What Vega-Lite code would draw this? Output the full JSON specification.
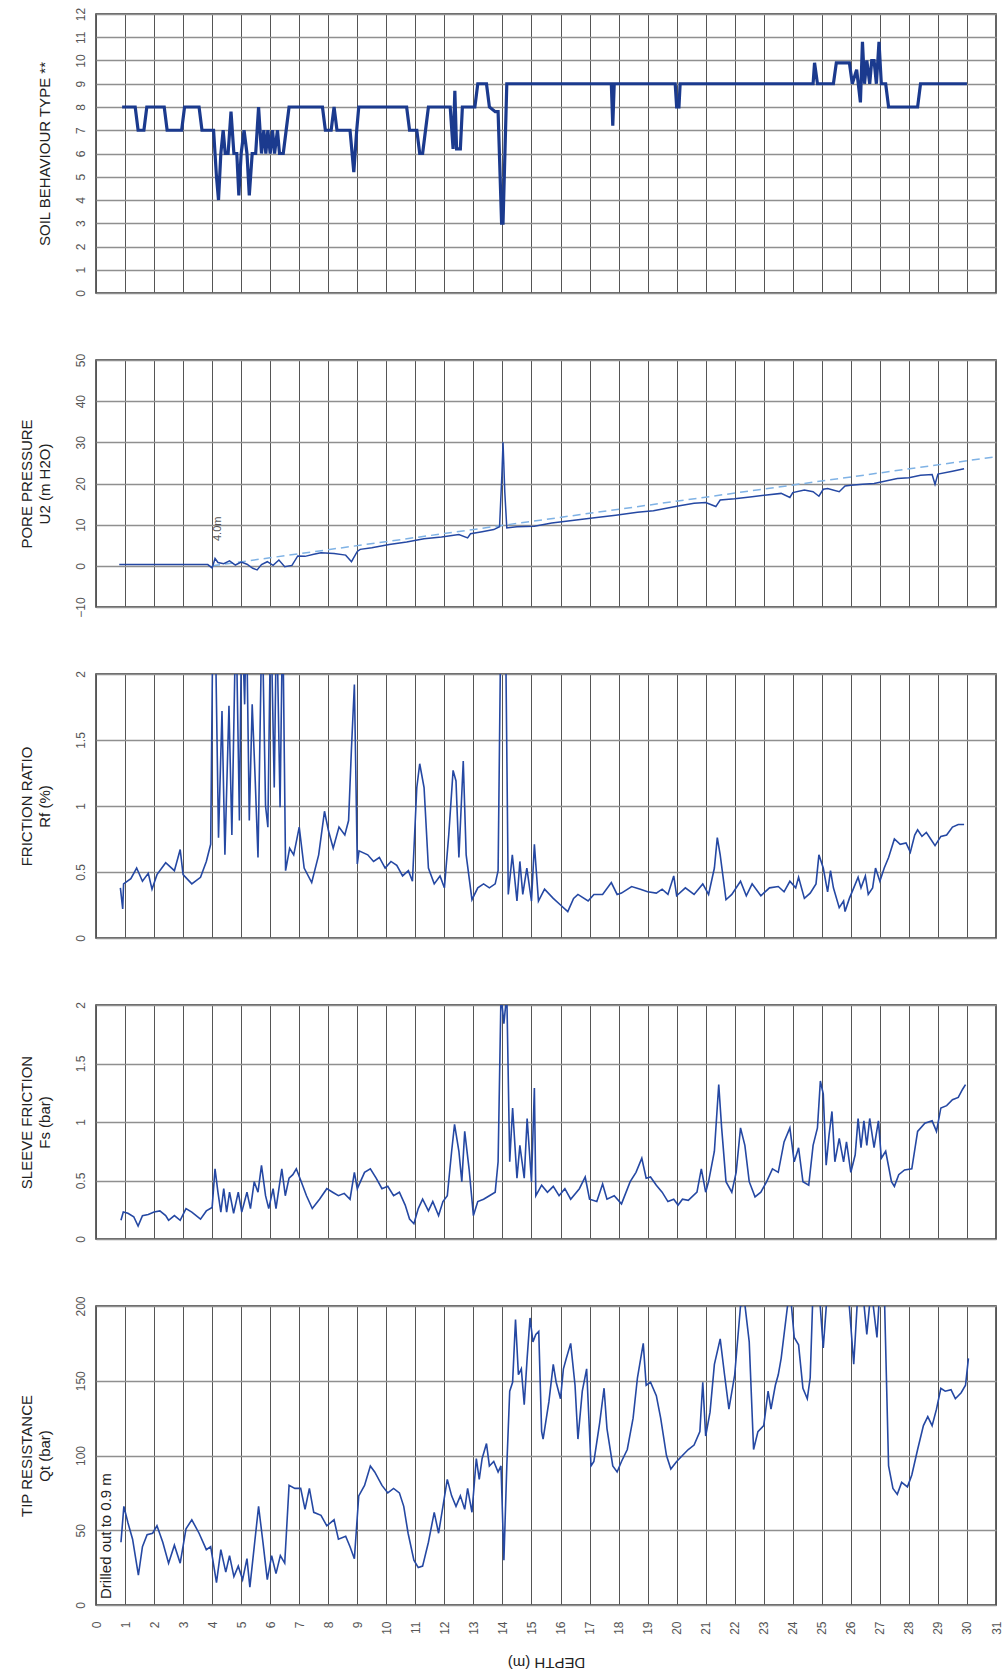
{
  "$schema": "https://vega.github.io/schema/vega-lite/v6.json",
  "background": "white",
  "padding": {"left": 18, "top": 6, "right": 10, "bottom": 0},
  "spacing": 67,
  "bounds": "flush",
  "datasets": {
    "sbt": [
      {"d":0.9,"v":8},{"d":1.35,"v":8},{"d":1.45,"v":7},{"d":1.65,"v":7},{"d":1.75,"v":8},{"d":2.35,"v":8},{"d":2.45,"v":7},{"d":2.95,"v":7},{"d":3.05,"v":8},{"d":3.55,"v":8},{"d":3.65,"v":7},{"d":4.05,"v":7},{"d":4.15,"v":5},{"d":4.22,"v":4},{"d":4.3,"v":6},{"d":4.38,"v":7},{"d":4.45,"v":6},{"d":4.55,"v":6},{"d":4.65,"v":7.8},{"d":4.75,"v":6},{"d":4.85,"v":6},{"d":4.92,"v":4.2},{"d":5.0,"v":6},{"d":5.1,"v":7},{"d":5.2,"v":6},{"d":5.28,"v":4.2},{"d":5.38,"v":6},{"d":5.5,"v":6},{"d":5.6,"v":8},{"d":5.7,"v":6},{"d":5.78,"v":7},{"d":5.85,"v":6},{"d":5.92,"v":7},{"d":6.0,"v":6},{"d":6.08,"v":7},{"d":6.15,"v":6},{"d":6.25,"v":7},{"d":6.32,"v":6},{"d":6.45,"v":6},{"d":6.55,"v":7},{"d":6.65,"v":8},{"d":7.8,"v":8},{"d":7.9,"v":7},{"d":8.1,"v":7},{"d":8.2,"v":8},{"d":8.3,"v":7},{"d":8.75,"v":7},{"d":8.88,"v":5.2},{"d":8.98,"v":7},{"d":9.05,"v":8},{"d":10.7,"v":8},{"d":10.8,"v":7},{"d":11.05,"v":7},{"d":11.15,"v":6},{"d":11.25,"v":6},{"d":11.35,"v":7},{"d":11.45,"v":8},{"d":12.2,"v":8},{"d":12.3,"v":6.2},{"d":12.36,"v":8.7},{"d":12.42,"v":6.2},{"d":12.55,"v":6.2},{"d":12.62,"v":8},{"d":13.05,"v":8},{"d":13.15,"v":9},{"d":13.45,"v":9},{"d":13.55,"v":8},{"d":13.75,"v":7.8},{"d":13.85,"v":7.8},{"d":13.97,"v":3},{"d":14.02,"v":3},{"d":14.15,"v":9},{"d":17.75,"v":9},{"d":17.8,"v":7.2},{"d":17.85,"v":9},{"d":19.95,"v":9},{"d":20.0,"v":8},{"d":20.08,"v":8},{"d":20.12,"v":9},{"d":24.7,"v":9},{"d":24.75,"v":9.9},{"d":24.85,"v":9},{"d":25.4,"v":9},{"d":25.5,"v":9.9},{"d":25.95,"v":9.9},{"d":26.05,"v":9},{"d":26.2,"v":9.6},{"d":26.33,"v":8.2},{"d":26.4,"v":10.8},{"d":26.47,"v":9},{"d":26.55,"v":10},{"d":26.65,"v":9},{"d":26.72,"v":10},{"d":26.8,"v":10},{"d":26.88,"v":9},{"d":26.97,"v":10.8},{"d":27.05,"v":9},{"d":27.2,"v":9},{"d":27.3,"v":8},{"d":28.3,"v":8},{"d":28.4,"v":9},{"d":30.0,"v":9}
    ],
    "pp": [
      {"d":0.8,"v":0.3},{"d":1.5,"v":0.3},{"d":2.5,"v":0.3},{"d":3.5,"v":0.3},{"d":3.85,"v":0.3},{"d":4.0,"v":-0.5},{"d":4.1,"v":1.8},{"d":4.2,"v":0.8},{"d":4.4,"v":0.5},{"d":4.6,"v":1.2},{"d":4.8,"v":0.2},{"d":5.0,"v":0.9},{"d":5.2,"v":0.4},{"d":5.4,"v":-0.6},{"d":5.55,"v":-1},{"d":5.7,"v":0.3},{"d":5.9,"v":1.0},{"d":6.1,"v":0.1},{"d":6.3,"v":1.4},{"d":6.5,"v":-0.2},{"d":6.75,"v":0.1},{"d":6.95,"v":2.4},{"d":7.2,"v":2.3},{"d":7.5,"v":2.8},{"d":7.75,"v":3.2},{"d":8.2,"v":3.0},{"d":8.6,"v":2.6},{"d":8.8,"v":1.0},{"d":9.0,"v":3.5},{"d":9.1,"v":4.0},{"d":9.5,"v":4.4},{"d":10.1,"v":5.2},{"d":10.7,"v":5.8},{"d":11.3,"v":6.6},{"d":11.9,"v":7.0},{"d":12.5,"v":7.6},{"d":12.8,"v":6.8},{"d":12.9,"v":7.8},{"d":13.3,"v":8.3},{"d":13.7,"v":8.8},{"d":13.9,"v":9.5},{"d":13.98,"v":22},{"d":14.02,"v":30},{"d":14.08,"v":18},{"d":14.15,"v":9.2},{"d":14.5,"v":9.5},{"d":15.1,"v":9.6},{"d":15.7,"v":10.4},{"d":16.4,"v":11.0},{"d":17.1,"v":11.6},{"d":17.9,"v":12.3},{"d":18.65,"v":13},{"d":19.2,"v":13.4},{"d":19.65,"v":14},{"d":20.1,"v":14.6},{"d":20.6,"v":15.2},{"d":21.0,"v":15.4},{"d":21.35,"v":14.4},{"d":21.5,"v":16.0},{"d":22.0,"v":16.3},{"d":22.6,"v":16.8},{"d":23.1,"v":17.2},{"d":23.6,"v":17.6},{"d":23.9,"v":16.6},{"d":24.0,"v":17.8},{"d":24.4,"v":18.4},{"d":24.7,"v":18.0},{"d":24.9,"v":16.9},{"d":25.05,"v":18.6},{"d":25.2,"v":18.8},{"d":25.6,"v":18.0},{"d":25.8,"v":19.4},{"d":26.0,"v":19.6},{"d":26.4,"v":19.8},{"d":26.8,"v":20.0},{"d":27.2,"v":20.6},{"d":27.6,"v":21.2},{"d":28.0,"v":21.4},{"d":28.4,"v":22.0},{"d":28.8,"v":22.2},{"d":28.9,"v":19.8},{"d":29.0,"v":22.3},{"d":29.5,"v":23.0},{"d":29.9,"v":23.6}
    ],
    "hyd": [
      {"d":4.0,"v":0},{"d":31.0,"v":26.5}
    ],
    "rf": [
      {"d":0.84,"v":0.38},{"d":0.92,"v":0.22},{"d":0.95,"v":0.41},{"d":1.2,"v":0.45},{"d":1.4,"v":0.53},{"d":1.6,"v":0.43},{"d":1.8,"v":0.49},{"d":1.93,"v":0.37},{"d":2.1,"v":0.48},{"d":2.4,"v":0.57},{"d":2.7,"v":0.51},{"d":2.9,"v":0.67},{"d":3.0,"v":0.48},{"d":3.3,"v":0.41},{"d":3.6,"v":0.46},{"d":3.8,"v":0.58},{"d":3.95,"v":0.71},{"d":4.03,"v":2.5},{"d":4.1,"v":2.5},{"d":4.22,"v":0.76},{"d":4.34,"v":1.72},{"d":4.44,"v":0.63},{"d":4.58,"v":1.76},{"d":4.68,"v":0.78},{"d":4.82,"v":2.5},{"d":4.94,"v":0.89},{"d":5.02,"v":2.5},{"d":5.12,"v":1.77},{"d":5.18,"v":2.5},{"d":5.28,"v":0.89},{"d":5.38,"v":1.77},{"d":5.48,"v":1.22},{"d":5.58,"v":0.61},{"d":5.72,"v":2.5},{"d":5.84,"v":1.0},{"d":5.92,"v":0.84},{"d":6.02,"v":2.5},{"d":6.14,"v":1.14},{"d":6.22,"v":2.5},{"d":6.34,"v":0.99},{"d":6.43,"v":2.5},{"d":6.53,"v":0.51},{"d":6.67,"v":0.68},{"d":6.81,"v":0.63},{"d":7.0,"v":0.84},{"d":7.17,"v":0.53},{"d":7.43,"v":0.42},{"d":7.67,"v":0.63},{"d":7.87,"v":0.96},{"d":8.01,"v":0.81},{"d":8.17,"v":0.68},{"d":8.37,"v":0.84},{"d":8.57,"v":0.78},{"d":8.7,"v":0.89},{"d":8.8,"v":1.44},{"d":8.9,"v":1.92},{"d":9.0,"v":0.56},{"d":9.06,"v":0.66},{"d":9.36,"v":0.63},{"d":9.56,"v":0.58},{"d":9.76,"v":0.61},{"d":9.96,"v":0.53},{"d":10.16,"v":0.58},{"d":10.36,"v":0.55},{"d":10.56,"v":0.47},{"d":10.76,"v":0.51},{"d":10.9,"v":0.43},{"d":11.05,"v":1.14},{"d":11.15,"v":1.32},{"d":11.3,"v":1.14},{"d":11.45,"v":0.53},{"d":11.65,"v":0.41},{"d":11.85,"v":0.47},{"d":12.0,"v":0.38},{"d":12.15,"v":0.78},{"d":12.3,"v":1.27},{"d":12.4,"v":1.19},{"d":12.5,"v":0.61},{"d":12.65,"v":1.34},{"d":12.75,"v":0.63},{"d":12.95,"v":0.29},{"d":13.15,"v":0.38},{"d":13.35,"v":0.41},{"d":13.55,"v":0.38},{"d":13.75,"v":0.41},{"d":13.85,"v":0.51},{"d":13.95,"v":2.5},{"d":14.1,"v":2.5},{"d":14.2,"v":0.33},{"d":14.34,"v":0.63},{"d":14.5,"v":0.28},{"d":14.6,"v":0.58},{"d":14.7,"v":0.33},{"d":14.84,"v":0.53},{"d":15.0,"v":0.28},{"d":15.1,"v":0.71},{"d":15.24,"v":0.28},{"d":15.45,"v":0.37},{"d":15.75,"v":0.30},{"d":16.0,"v":0.25},{"d":16.25,"v":0.2},{"d":16.45,"v":0.3},{"d":16.6,"v":0.33},{"d":16.95,"v":0.28},{"d":17.15,"v":0.33},{"d":17.45,"v":0.33},{"d":17.75,"v":0.42},{"d":17.95,"v":0.33},{"d":18.1,"v":0.34},{"d":18.45,"v":0.39},{"d":18.75,"v":0.37},{"d":19.0,"v":0.35},{"d":19.3,"v":0.34},{"d":19.5,"v":0.37},{"d":19.7,"v":0.33},{"d":19.9,"v":0.47},{"d":20.0,"v":0.32},{"d":20.3,"v":0.38},{"d":20.6,"v":0.33},{"d":20.9,"v":0.41},{"d":21.1,"v":0.33},{"d":21.3,"v":0.53},{"d":21.4,"v":0.76},{"d":21.5,"v":0.63},{"d":21.7,"v":0.29},{"d":21.9,"v":0.33},{"d":22.2,"v":0.43},{"d":22.4,"v":0.32},{"d":22.6,"v":0.41},{"d":22.9,"v":0.32},{"d":23.2,"v":0.38},{"d":23.5,"v":0.39},{"d":23.7,"v":0.35},{"d":23.9,"v":0.43},{"d":24.1,"v":0.38},{"d":24.2,"v":0.46},{"d":24.4,"v":0.30},{"d":24.6,"v":0.34},{"d":24.8,"v":0.41},{"d":24.9,"v":0.63},{"d":25.05,"v":0.53},{"d":25.2,"v":0.35},{"d":25.3,"v":0.51},{"d":25.4,"v":0.38},{"d":25.6,"v":0.23},{"d":25.75,"v":0.28},{"d":25.8,"v":0.2},{"d":25.95,"v":0.30},{"d":26.1,"v":0.38},{"d":26.25,"v":0.46},{"d":26.35,"v":0.38},{"d":26.5,"v":0.47},{"d":26.6,"v":0.33},{"d":26.75,"v":0.38},{"d":26.85,"v":0.53},{"d":27.0,"v":0.43},{"d":27.15,"v":0.53},{"d":27.3,"v":0.61},{"d":27.5,"v":0.75},{"d":27.7,"v":0.71},{"d":27.9,"v":0.72},{"d":28.05,"v":0.65},{"d":28.2,"v":0.78},{"d":28.3,"v":0.82},{"d":28.45,"v":0.77},{"d":28.6,"v":0.80},{"d":28.75,"v":0.75},{"d":28.9,"v":0.70},{"d":29.1,"v":0.77},{"d":29.3,"v":0.78},{"d":29.5,"v":0.84},{"d":29.7,"v":0.86},{"d":29.9,"v":0.86}
    ],
    "fs": [
      {"d":0.86,"v":0.16},{"d":0.94,"v":0.23},{"d":1.1,"v":0.22},{"d":1.3,"v":0.19},{"d":1.45,"v":0.11},{"d":1.6,"v":0.2},{"d":1.8,"v":0.21},{"d":2.0,"v":0.23},{"d":2.2,"v":0.24},{"d":2.4,"v":0.2},{"d":2.5,"v":0.16},{"d":2.7,"v":0.2},{"d":2.9,"v":0.16},{"d":3.1,"v":0.26},{"d":3.3,"v":0.23},{"d":3.6,"v":0.17},{"d":3.8,"v":0.24},{"d":4.0,"v":0.27},{"d":4.1,"v":0.6},{"d":4.2,"v":0.4},{"d":4.3,"v":0.23},{"d":4.4,"v":0.43},{"d":4.5,"v":0.23},{"d":4.6,"v":0.4},{"d":4.74,"v":0.22},{"d":4.9,"v":0.4},{"d":5.02,"v":0.23},{"d":5.2,"v":0.4},{"d":5.32,"v":0.26},{"d":5.45,"v":0.49},{"d":5.58,"v":0.4},{"d":5.7,"v":0.63},{"d":5.84,"v":0.37},{"d":5.95,"v":0.26},{"d":6.1,"v":0.43},{"d":6.2,"v":0.26},{"d":6.4,"v":0.6},{"d":6.52,"v":0.37},{"d":6.65,"v":0.52},{"d":6.78,"v":0.55},{"d":6.9,"v":0.6},{"d":7.07,"v":0.49},{"d":7.25,"v":0.37},{"d":7.45,"v":0.26},{"d":7.7,"v":0.34},{"d":7.95,"v":0.43},{"d":8.15,"v":0.4},{"d":8.35,"v":0.37},{"d":8.55,"v":0.39},{"d":8.75,"v":0.34},{"d":8.9,"v":0.57},{"d":9.0,"v":0.43},{"d":9.25,"v":0.57},{"d":9.45,"v":0.6},{"d":9.65,"v":0.52},{"d":9.85,"v":0.43},{"d":10.05,"v":0.45},{"d":10.25,"v":0.37},{"d":10.45,"v":0.4},{"d":10.65,"v":0.29},{"d":10.8,"v":0.17},{"d":10.95,"v":0.13},{"d":11.1,"v":0.26},{"d":11.25,"v":0.34},{"d":11.45,"v":0.24},{"d":11.6,"v":0.32},{"d":11.8,"v":0.2},{"d":11.95,"v":0.32},{"d":12.1,"v":0.37},{"d":12.25,"v":0.75},{"d":12.35,"v":0.98},{"d":12.5,"v":0.75},{"d":12.6,"v":0.49},{"d":12.7,"v":0.92},{"d":12.85,"v":0.6},{"d":13.0,"v":0.2},{"d":13.15,"v":0.32},{"d":13.35,"v":0.34},{"d":13.55,"v":0.37},{"d":13.75,"v":0.4},{"d":13.85,"v":0.66},{"d":13.95,"v":2.1},{"d":14.05,"v":1.84},{"d":14.15,"v":2.1},{"d":14.25,"v":0.66},{"d":14.35,"v":1.12},{"d":14.5,"v":0.52},{"d":14.6,"v":0.8},{"d":14.75,"v":0.52},{"d":14.85,"v":1.03},{"d":15.0,"v":0.49},{"d":15.1,"v":1.29},{"d":15.15,"v":0.37},{"d":15.35,"v":0.46},{"d":15.55,"v":0.4},{"d":15.75,"v":0.45},{"d":15.95,"v":0.37},{"d":16.15,"v":0.43},{"d":16.35,"v":0.34},{"d":16.65,"v":0.43},{"d":16.85,"v":0.53},{"d":17.0,"v":0.34},{"d":17.25,"v":0.32},{"d":17.45,"v":0.47},{"d":17.6,"v":0.34},{"d":17.85,"v":0.37},{"d":18.1,"v":0.3},{"d":18.4,"v":0.49},{"d":18.6,"v":0.57},{"d":18.8,"v":0.69},{"d":18.95,"v":0.52},{"d":19.1,"v":0.53},{"d":19.3,"v":0.46},{"d":19.5,"v":0.4},{"d":19.7,"v":0.32},{"d":19.9,"v":0.34},{"d":20.05,"v":0.29},{"d":20.2,"v":0.34},{"d":20.4,"v":0.33},{"d":20.7,"v":0.4},{"d":20.85,"v":0.6},{"d":21.0,"v":0.4},{"d":21.1,"v":0.49},{"d":21.3,"v":0.75},{"d":21.45,"v":1.32},{"d":21.55,"v":0.95},{"d":21.7,"v":0.49},{"d":21.9,"v":0.4},{"d":22.05,"v":0.57},{"d":22.2,"v":0.95},{"d":22.35,"v":0.8},{"d":22.5,"v":0.49},{"d":22.7,"v":0.36},{"d":22.9,"v":0.4},{"d":23.1,"v":0.49},{"d":23.3,"v":0.6},{"d":23.5,"v":0.57},{"d":23.7,"v":0.83},{"d":23.9,"v":0.95},{"d":24.05,"v":0.66},{"d":24.2,"v":0.78},{"d":24.35,"v":0.49},{"d":24.55,"v":0.46},{"d":24.7,"v":0.8},{"d":24.85,"v":0.95},{"d":24.95,"v":1.35},{"d":25.05,"v":1.24},{"d":25.15,"v":0.63},{"d":25.25,"v":0.89},{"d":25.35,"v":1.09},{"d":25.45,"v":0.66},{"d":25.6,"v":0.86},{"d":25.75,"v":0.66},{"d":25.85,"v":0.83},{"d":26.0,"v":0.57},{"d":26.15,"v":0.72},{"d":26.25,"v":1.03},{"d":26.35,"v":0.78},{"d":26.45,"v":1.01},{"d":26.55,"v":0.8},{"d":26.65,"v":1.03},{"d":26.8,"v":0.78},{"d":26.95,"v":1.01},{"d":27.05,"v":0.69},{"d":27.2,"v":0.75},{"d":27.4,"v":0.49},{"d":27.5,"v":0.45},{"d":27.65,"v":0.55},{"d":27.85,"v":0.59},{"d":28.1,"v":0.6},{"d":28.3,"v":0.92},{"d":28.55,"v":0.99},{"d":28.8,"v":1.01},{"d":28.95,"v":0.92},{"d":29.1,"v":1.12},{"d":29.3,"v":1.14},{"d":29.5,"v":1.19},{"d":29.7,"v":1.21},{"d":29.85,"v":1.28},{"d":29.95,"v":1.32}
    ],
    "qt": [
      {"d":0.86,"v":42},{"d":0.96,"v":66},{"d":1.1,"v":55},{"d":1.26,"v":44},{"d":1.46,"v":20},{"d":1.6,"v":39},{"d":1.76,"v":47},{"d":1.95,"v":48},{"d":2.1,"v":53},{"d":2.3,"v":42},{"d":2.5,"v":28},{"d":2.7,"v":40},{"d":2.9,"v":28},{"d":3.1,"v":51},{"d":3.3,"v":57},{"d":3.55,"v":48},{"d":3.8,"v":37},{"d":3.95,"v":39},{"d":4.15,"v":15},{"d":4.3,"v":37},{"d":4.47,"v":22},{"d":4.6,"v":33},{"d":4.75,"v":19},{"d":4.9,"v":26},{"d":5.05,"v":17},{"d":5.2,"v":31},{"d":5.3,"v":12},{"d":5.45,"v":39},{"d":5.6,"v":66},{"d":5.75,"v":42},{"d":5.9,"v":17},{"d":6.05,"v":33},{"d":6.2,"v":21},{"d":6.35,"v":33},{"d":6.5,"v":28},{"d":6.65,"v":80},{"d":6.85,"v":78},{"d":7.05,"v":78},{"d":7.2,"v":64},{"d":7.35,"v":78},{"d":7.5,"v":62},{"d":7.75,"v":60},{"d":7.95,"v":53},{"d":8.2,"v":57},{"d":8.35,"v":44},{"d":8.6,"v":46},{"d":8.75,"v":39},{"d":8.9,"v":31},{"d":9.05,"v":73},{"d":9.25,"v":80},{"d":9.45,"v":93},{"d":9.6,"v":89},{"d":9.85,"v":80},{"d":10.05,"v":75},{"d":10.25,"v":78},{"d":10.45,"v":75},{"d":10.6,"v":66},{"d":10.75,"v":48},{"d":10.95,"v":30},{"d":11.1,"v":25},{"d":11.25,"v":26},{"d":11.45,"v":42},{"d":11.65,"v":62},{"d":11.8,"v":48},{"d":11.95,"v":66},{"d":12.1,"v":84},{"d":12.25,"v":73},{"d":12.4,"v":66},{"d":12.55,"v":73},{"d":12.7,"v":64},{"d":12.8,"v":78},{"d":12.95,"v":62},{"d":13.1,"v":98},{"d":13.2,"v":84},{"d":13.3,"v":98},{"d":13.45,"v":108},{"d":13.55,"v":93},{"d":13.7,"v":96},{"d":13.85,"v":89},{"d":13.95,"v":93},{"d":14.05,"v":30},{"d":14.15,"v":93},{"d":14.25,"v":143},{"d":14.35,"v":149},{"d":14.45,"v":191},{"d":14.55,"v":154},{"d":14.65,"v":158},{"d":14.75,"v":134},{"d":14.85,"v":165},{"d":14.95,"v":192},{"d":15.05,"v":176},{"d":15.15,"v":181},{"d":15.25,"v":183},{"d":15.35,"v":116},{"d":15.4,"v":111},{"d":15.6,"v":136},{"d":15.75,"v":161},{"d":15.85,"v":149},{"d":16.0,"v":138},{"d":16.1,"v":158},{"d":16.2,"v":165},{"d":16.35,"v":175},{"d":16.5,"v":147},{"d":16.6,"v":111},{"d":16.75,"v":143},{"d":16.9,"v":158},{"d":17.05,"v":93},{"d":17.15,"v":96},{"d":17.35,"v":122},{"d":17.5,"v":145},{"d":17.6,"v":118},{"d":17.8,"v":93},{"d":17.95,"v":89},{"d":18.1,"v":96},{"d":18.3,"v":104},{"d":18.5,"v":125},{"d":18.65,"v":152},{"d":18.85,"v":175},{"d":18.95,"v":147},{"d":19.1,"v":149},{"d":19.3,"v":140},{"d":19.45,"v":125},{"d":19.65,"v":100},{"d":19.8,"v":91},{"d":20.0,"v":96},{"d":20.2,"v":100},{"d":20.4,"v":104},{"d":20.6,"v":107},{"d":20.8,"v":116},{"d":20.9,"v":149},{"d":21.0,"v":113},{"d":21.15,"v":129},{"d":21.3,"v":161},{"d":21.5,"v":178},{"d":21.65,"v":154},{"d":21.8,"v":131},{"d":22.0,"v":154},{"d":22.2,"v":200},{"d":22.35,"v":201},{"d":22.5,"v":176},{"d":22.65,"v":104},{"d":22.8,"v":116},{"d":23.0,"v":120},{"d":23.15,"v":143},{"d":23.25,"v":131},{"d":23.4,"v":147},{"d":23.5,"v":154},{"d":23.6,"v":165},{"d":23.8,"v":197},{"d":23.9,"v":212},{"d":24.05,"v":179},{"d":24.2,"v":174},{"d":24.35,"v":145},{"d":24.5,"v":138},{"d":24.6,"v":152},{"d":24.7,"v":212},{"d":24.9,"v":212},{"d":25.05,"v":172},{"d":25.2,"v":212},{"d":25.35,"v":212},{"d":25.5,"v":212},{"d":25.9,"v":212},{"d":26.1,"v":161},{"d":26.25,"v":212},{"d":26.4,"v":212},{"d":26.55,"v":181},{"d":26.7,"v":212},{"d":26.9,"v":179},{"d":27.0,"v":212},{"d":27.15,"v":212},{"d":27.3,"v":93},{"d":27.45,"v":78},{"d":27.6,"v":74},{"d":27.75,"v":82},{"d":27.95,"v":79},{"d":28.1,"v":87},{"d":28.3,"v":104},{"d":28.5,"v":120},{"d":28.65,"v":126},{"d":28.8,"v":120},{"d":28.95,"v":131},{"d":29.1,"v":145},{"d":29.25,"v":143},{"d":29.45,"v":144},{"d":29.6,"v":138},{"d":29.8,"v":142},{"d":29.95,"v":147},{"d":30.05,"v":165}
    ]
  },
  "vconcat": [
    {
      "width": 900, "height": 279,
      "data": {"name": "sbt"},
      "mark": {"type": "line", "color": "#1b3a8e", "strokeWidth": 3.2, "clip": true},
      "encoding": {
        "x": {"field": "d", "type": "quantitative", "scale": {"domain": [0, 31], "nice": false},
              "axis": {"values": [0,1,2,3,4,5,6,7,8,9,10,11,12,13,14,15,16,17,18,19,20,21,22,23,24,25,26,27,28,29,30], "tickCount": 40, "labels": false, "ticks": false, "domain": false, "title": null}},
        "y": {"field": "v", "type": "quantitative", "scale": {"domain": [0, 12], "nice": false, "zero": false},
              "axis": {"values": [0,1,2,3,4,5,6,7,8,9,10,11,12], "tickCount": 20, "format": "d", "title": "SOIL BEHAVIOUR TYPE **"}}
      }
    },
    {
      "width": 900, "height": 247,
      "layer": [
        {
          "data": {"name": "hyd"},
          "mark": {"type": "line", "color": "#7fb2e5", "strokeWidth": 1.5, "strokeDash": [8, 5], "clip": true},
          "encoding": {
            "x": {"field": "d", "type": "quantitative", "scale": {"domain": [0, 31], "nice": false},
                  "axis": {"values": [0,1,2,3,4,5,6,7,8,9,10,11,12,13,14,15,16,17,18,19,20,21,22,23,24,25,26,27,28,29,30], "tickCount": 40, "labels": false, "ticks": false, "domain": false, "title": null}},
            "y": {"field": "v", "type": "quantitative", "scale": {"domain": [-10, 50], "nice": false, "zero": false},
                  "axis": {"values": [-10,0,10,20,30,40,50], "tickCount": 10, "format": "d", "title": ["PORE PRESSURE", "U2 (m H2O)"]}}
          }
        },
        {
          "data": {"name": "pp"},
          "mark": {"type": "line", "color": "#2548a3", "strokeWidth": 1.5, "clip": true},
          "encoding": {
            "x": {"field": "d", "type": "quantitative"},
            "y": {"field": "v", "type": "quantitative"}
          }
        },
        {
          "data": {"values": [{"t": "4.0m"}]},
          "mark": {"type": "text", "angle": 270, "fontSize": 11, "color": "#555555", "align": "center", "baseline": "middle", "font": "Liberation Sans"},
          "encoding": {
            "x": {"datum": 4.2, "type": "quantitative"},
            "y": {"datum": 9, "type": "quantitative"},
            "text": {"field": "t"}
          }
        }
      ]
    },
    {
      "width": 900, "height": 264,
      "data": {"name": "rf"},
      "mark": {"type": "line", "color": "#2548a3", "strokeWidth": 1.6, "clip": true},
      "encoding": {
        "x": {"field": "d", "type": "quantitative", "scale": {"domain": [0, 31], "nice": false},
              "axis": {"values": [0,1,2,3,4,5,6,7,8,9,10,11,12,13,14,15,16,17,18,19,20,21,22,23,24,25,26,27,28,29,30], "tickCount": 40, "labels": false, "ticks": false, "domain": false, "title": null}},
        "y": {"field": "v", "type": "quantitative", "scale": {"domain": [0, 2], "nice": false, "zero": false},
              "axis": {"values": [0, 0.5, 1, 1.5, 2], "tickCount": 10, "format": "~g", "title": ["FRICTION RATIO", "Rf (%)"]}}
      }
    },
    {
      "width": 900, "height": 234,
      "data": {"name": "fs"},
      "mark": {"type": "line", "color": "#2548a3", "strokeWidth": 1.6, "clip": true},
      "encoding": {
        "x": {"field": "d", "type": "quantitative", "scale": {"domain": [0, 31], "nice": false},
              "axis": {"values": [0,1,2,3,4,5,6,7,8,9,10,11,12,13,14,15,16,17,18,19,20,21,22,23,24,25,26,27,28,29,30], "tickCount": 40, "labels": false, "ticks": false, "domain": false, "title": null}},
        "y": {"field": "v", "type": "quantitative", "scale": {"domain": [0, 2], "nice": false, "zero": false},
              "axis": {"values": [0, 0.5, 1, 1.5, 2], "tickCount": 10, "format": "~g", "title": ["SLEEVE FRICTION", "Fs (bar)"]}}
      }
    },
    {
      "width": 900, "height": 299,
      "encoding": {
        "x": {"type": "quantitative", "scale": {"domain": [0, 31], "nice": false},
              "axis": {"values": [0,1,2,3,4,5,6,7,8,9,10,11,12,13,14,15,16,17,18,19,20,21,22,23,24,25,26,27,28,29,30,31], "tickCount": 40, "labels": true, "labelOverlap": false, "labelAngle": 270, "labelPadding": 16, "labelFontSize": 12, "ticks": false, "domain": false, "title": "DEPTH (m)", "titleAngle": 180, "titleBaseline": "bottom", "titlePadding": 20, "titleFontSize": 15}},
        "y": {"type": "quantitative", "scale": {"domain": [0, 200], "nice": false, "zero": false},
              "axis": {"values": [0, 50, 100, 150, 200], "tickCount": 10, "format": "d", "title": ["TIP RESISTANCE", "Qt (bar)"]}}
      },
      "layer": [
        {
          "data": {"name": "qt"},
          "mark": {"type": "line", "color": "#2548a3", "strokeWidth": 1.6, "clip": true},
          "encoding": {
            "x": {"field": "d"},
            "y": {"field": "v"}
          }
        },
        {
          "data": {"values": [{"t": "Drilled out to 0.9 m"}]},
          "mark": {"type": "text", "angle": 270, "fontSize": 15, "color": "#222222", "align": "left", "baseline": "middle", "font": "Liberation Sans"},
          "encoding": {
            "x": {"datum": 0.35},
            "y": {"datum": 4},
            "text": {"field": "t"}
          }
        }
      ]
    }
  ],
  "config": {
    "font": "Liberation Sans",
    "view": {"stroke": "#333333", "strokeWidth": 1.5},
    "axis": {
      "labelFont": "Liberation Sans",
      "titleFont": "Liberation Sans",
      "labelFontSize": 12,
      "titleFontSize": 15,
      "titleFontWeight": "normal",
      "labelColor": "#555555",
      "titleColor": "#222222",
      "grid": true,
      "gridOpacity": 1,
      "labelOverlap": false
    },
    "axisX": {"gridColor": "#555555", "gridWidth": 1, "labelOverlap": false},
    "axisY": {"gridColor": "#8f8f8f", "gridWidth": 1.3, "ticks": false, "domain": false, "labelAngle": 270, "labelPadding": 9, "titlePadding": 22, "titleLineHeight": 18}
  }
}
